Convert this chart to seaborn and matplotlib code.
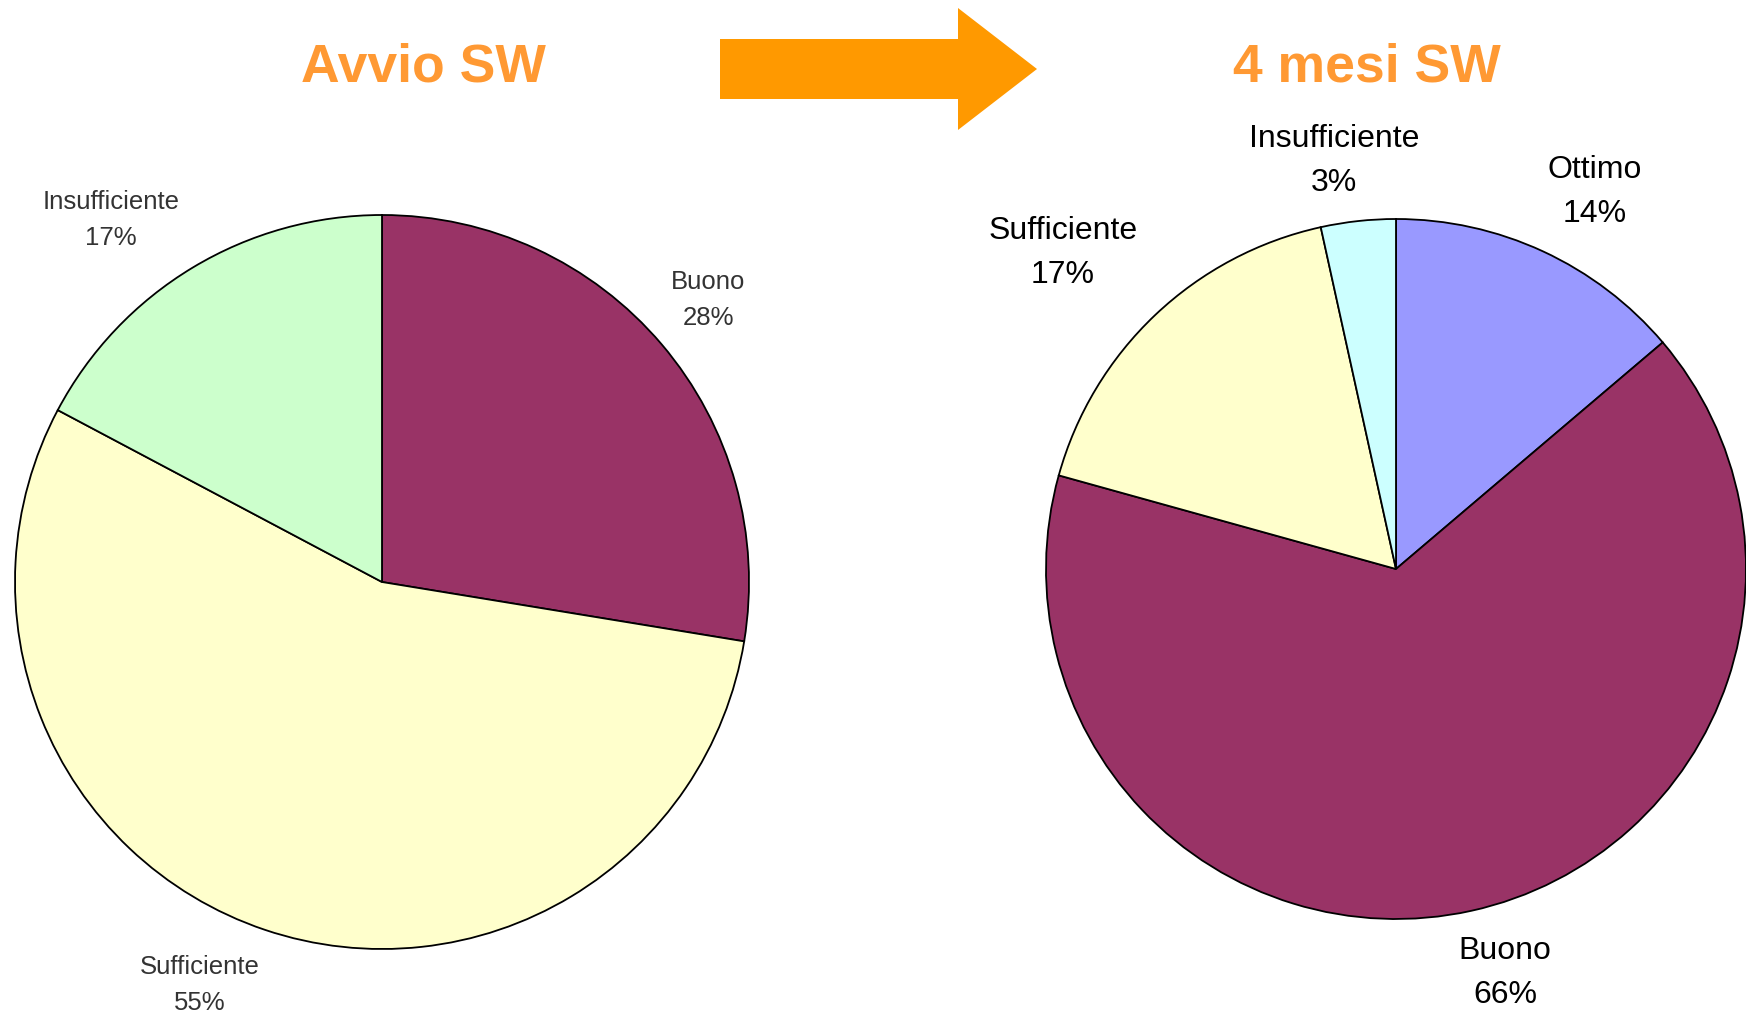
import matplotlib.pyplot as plt
import seaborn as sns

# data (counts out of 29 answers, shown as %)
avvio_labels = ["Buono", "Sufficiente", "Insufficiente"]
avvio_values = [8, 16, 5]
avvio_colors = ["#993366", "#FFFFCC", "#CCFFCC"]

mesi_labels = ["Ottimo", "Buono", "Sufficiente", "Insufficiente"]
mesi_values = [4, 19, 5, 1]
mesi_colors = ["#9999FF", "#993366", "#FFFFCC", "#CCFFFF"]

titles = ["Avvio SW", "4 mesi SW"]

# layout (pixel coords, y from top)
W, H = 1746, 1014
avvio_center, avvio_radius = (382, 582), 367
mesi_center, mesi_radius = (1396, 569), 350
avvio_label_pos = [(708, 300), (200, 985), (111, 220)]
mesi_label_pos = [(1595, 192), (1505, 973), (1063, 253), (1334, 161)]
title_pos = [(423, 68), (1367, 68)]
arrow_px = [(720, 39), (958, 39), (958, 8), (1037, 69), (958, 130), (958, 99), (720, 99)]

sns.set_style("white")
plt.rcParams['font.family'] = ['Liberation Sans', 'DejaVu Sans']

fig = plt.figure(figsize=(W / 100, H / 100), dpi=100)
ax = fig.add_axes([0, 0, 1, 1])


def flip(p):
    return (p[0], H - p[1])


def drawPie(values, colors, center, radius, labels, label_pos, size, color):
    ax.pie(values, colors=colors, startangle=90, counterclock=False,
           center=flip(center), radius=radius,
           wedgeprops=dict(edgecolor="black", linewidth=1.3))
    total = sum(values)
    for lab, val, pos in zip(labels, values, label_pos):
        x, y = flip(pos)
        ax.text(x, y, f"{lab}\n{round(100 * val / total)}%", ha="center", va="center",
                fontsize=size, color=color, linespacing=1.6)


drawPie(avvio_values, avvio_colors, avvio_center, avvio_radius,
        avvio_labels, avvio_label_pos, 18.5, "#333333")
drawPie(mesi_values, mesi_colors, mesi_center, mesi_radius,
        mesi_labels, mesi_label_pos, 23, "black")

for t, pos in zip(titles, title_pos):
    x, y = flip(pos)
    ax.text(x, y, t, ha="center", va="center", fontsize=38.5,
            fontweight="bold", color="#FF9933")

ax.fill([p[0] for p in arrow_px], [H - p[1] for p in arrow_px],
        color="#FF9900", lw=0)

ax.set_xlim(0, W)
ax.set_ylim(0, H)
ax.set_aspect("equal")
ax.axis("off")

fig.savefig("out.png", dpi=100, facecolor="white")
